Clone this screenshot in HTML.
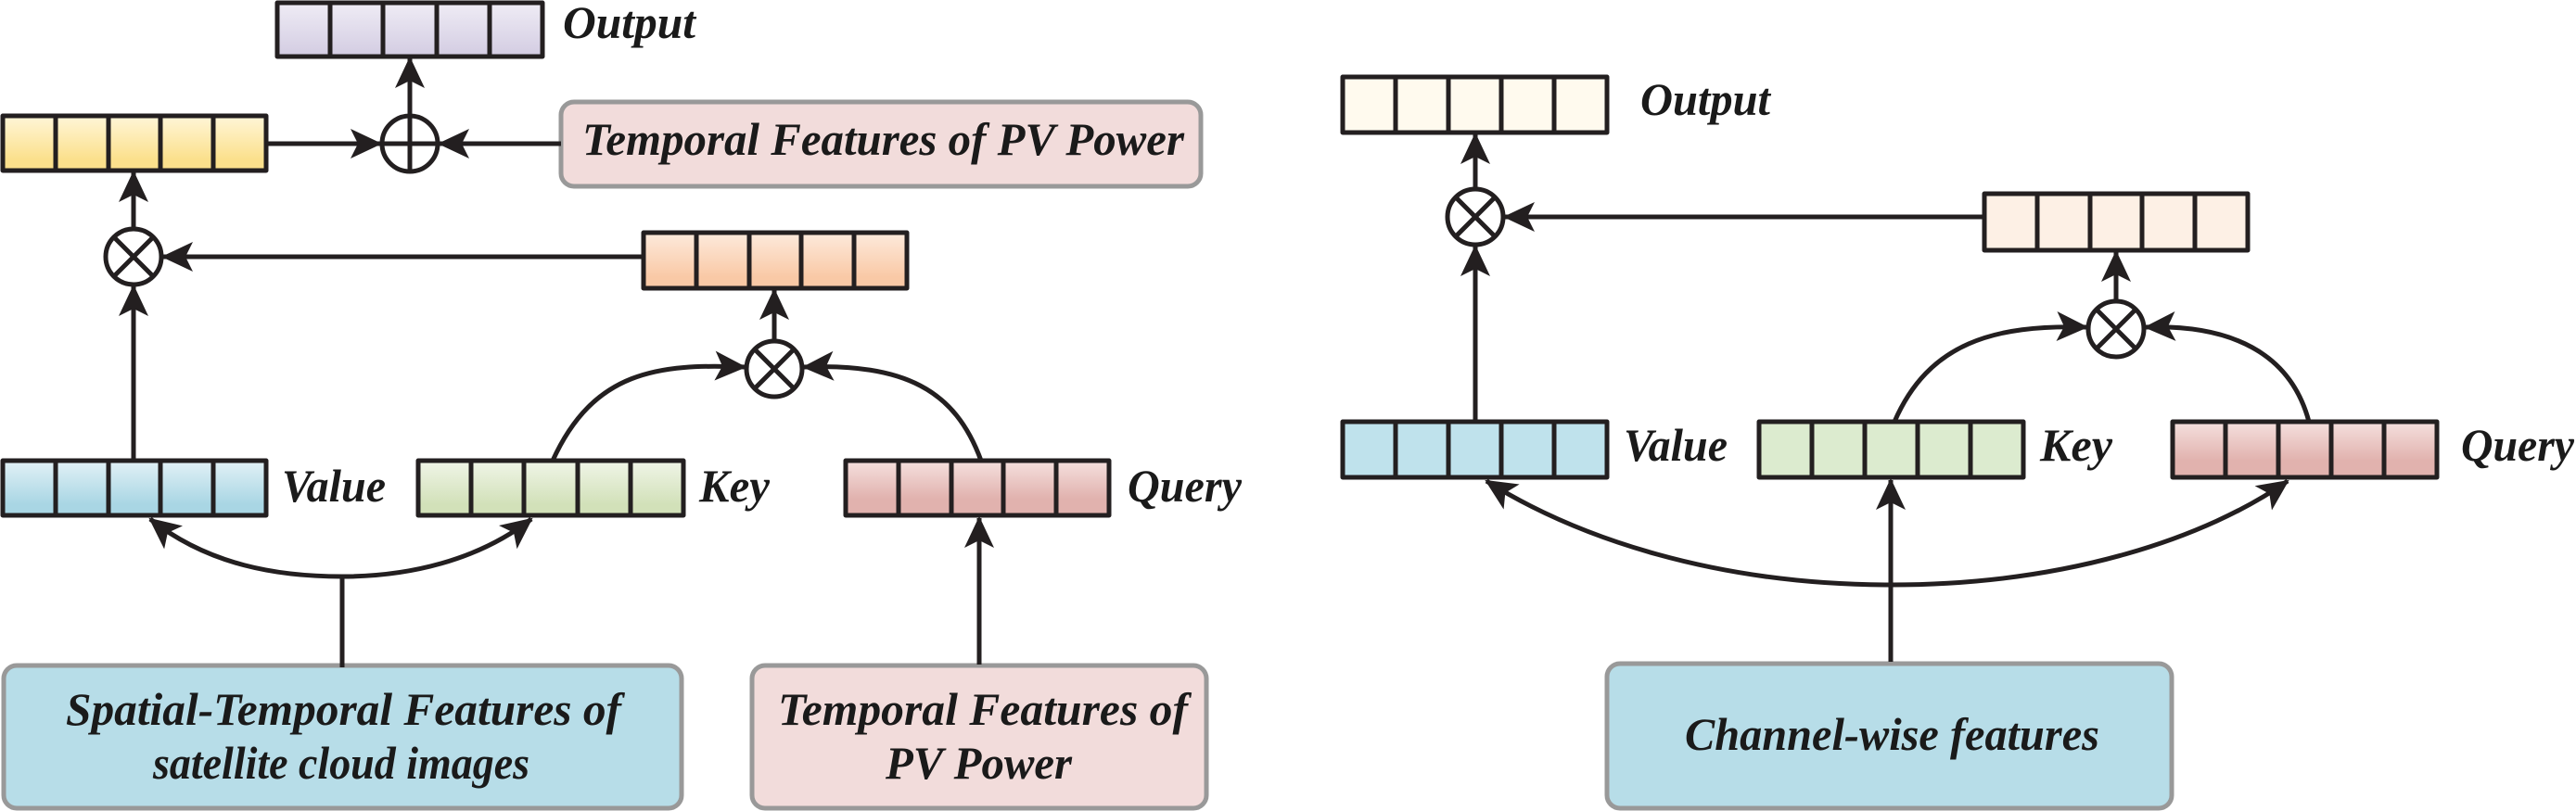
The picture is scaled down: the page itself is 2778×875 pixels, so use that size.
<!DOCTYPE html>
<html><head><meta charset="utf-8"><style>
html,body{margin:0;padding:0;background:#fff;}
svg{display:block;}
text{font-family:"Liberation Serif","DejaVu Serif",serif;font-weight:bold;font-style:italic;fill:#1a1a1a;}
</style></head><body>
<svg width="2778" height="875" viewBox="0 0 2778 875" xmlns="http://www.w3.org/2000/svg">
<defs>
<marker id="ah" markerUnits="userSpaceOnUse" markerWidth="36" markerHeight="34" refX="32" refY="16" orient="auto">
<path d="M0,0 L34,16 L0,32 L8,16 z" fill="#231f20"/>
</marker>
<linearGradient id="gPur" x1="0" y1="0" x2="0" y2="1"><stop offset="0" stop-color="#efecf5"/><stop offset="1" stop-color="#d3cce2"/></linearGradient>
<linearGradient id="gYel" x1="0" y1="0" x2="0" y2="1"><stop offset="0" stop-color="#fff6d8"/><stop offset="0.8" stop-color="#fbe08c"/></linearGradient>
<linearGradient id="gOra" x1="0" y1="0" x2="0" y2="1"><stop offset="0" stop-color="#fdeadc"/><stop offset="0.8" stop-color="#f9c9a6"/></linearGradient>
<linearGradient id="gBlu" x1="0" y1="0" x2="0" y2="1"><stop offset="0" stop-color="#e2f1f6"/><stop offset="0.8" stop-color="#a9d6e4"/></linearGradient>
<linearGradient id="gGrn" x1="0" y1="0" x2="0" y2="1"><stop offset="0" stop-color="#f0f5e8"/><stop offset="0.8" stop-color="#d2e1b9"/></linearGradient>
<linearGradient id="gRed" x1="0" y1="0" x2="0" y2="1"><stop offset="0" stop-color="#f5e0de"/><stop offset="0.7" stop-color="#e1b2ae"/></linearGradient>
</defs>
<g stroke="#231f20" stroke-width="5" fill="none" stroke-linejoin="round">
<rect x="299" y="3" width="286" height="58" fill="url(#gPur)"/>
<path d="M356,3V61M413,3V61M471,3V61M528,3V61"/>
<rect x="3" y="125" width="284" height="59" fill="url(#gYel)"/>
<path d="M60,125V184M117,125V184M173,125V184M230,125V184"/>
<rect x="694" y="251" width="284" height="60" fill="url(#gOra)"/>
<path d="M751,251V311M808,251V311M864,251V311M921,251V311"/>
<rect x="3" y="497" width="284" height="59" fill="url(#gBlu)"/>
<path d="M60,497V556M117,497V556M173,497V556M230,497V556"/>
<rect x="451" y="497" width="286" height="59" fill="url(#gGrn)"/>
<path d="M508,497V556M565,497V556M623,497V556M680,497V556"/>
<rect x="912" y="497" width="284" height="59" fill="url(#gRed)"/>
<path d="M969,497V556M1026,497V556M1082,497V556M1139,497V556"/>
<rect x="1448" y="83" width="285" height="60" fill="#fffaee"/>
<path d="M1505,83V143M1562,83V143M1619,83V143M1676,83V143"/>
<rect x="2140" y="209" width="284" height="61" fill="#fdf0e5"/>
<path d="M2197,209V270M2254,209V270M2310,209V270M2367,209V270"/>
<rect x="1448" y="455" width="285" height="60" fill="#bfe2ec"/>
<path d="M1505,455V515M1562,455V515M1619,455V515M1676,455V515"/>
<rect x="1897" y="455" width="285" height="60" fill="#dcebcf"/>
<path d="M1954,455V515M2011,455V515M2068,455V515M2125,455V515"/>
<rect x="2343" y="455" width="285" height="60" fill="url(#gRed)"/>
<path d="M2400,455V515M2457,455V515M2514,455V515M2571,455V515"/>
</g>
<g stroke="#999" stroke-width="5">
<rect x="605" y="110" width="690" height="91" rx="14" fill="#f2dcdb"/>
<rect x="4" y="718" width="731" height="154" rx="14" fill="#b7dde8"/>
<rect x="811" y="718" width="490" height="154" rx="14" fill="#f2dcdb"/>
<rect x="1733" y="716" width="609" height="156" rx="14" fill="#b7dde8"/>
</g>
<g stroke="#231f20" stroke-width="5" fill="#fff">
<circle cx="442" cy="155" r="30"/>
<path d="M412,155H472M442,125V185" fill="none"/>
<circle cx="144" cy="277" r="30"/>
<path d="M123,256L165,298M165,256L123,298" fill="none"/>
<circle cx="835" cy="398" r="30"/>
<path d="M814,377L856,419M856,377L814,419" fill="none"/>
<circle cx="1591" cy="234" r="30"/>
<path d="M1570,213L1612,255M1612,213L1570,255" fill="none"/>
<circle cx="2282" cy="355" r="30"/>
<path d="M2261,334L2303,376M2303,334L2261,376" fill="none"/>
</g>
<g stroke="#231f20" stroke-width="5" fill="none" marker-end="url(#ah)">
<path d="M287,155H410"/>
<path d="M605,155H474"/>
<path d="M442,125V63"/>
<path d="M144,247V186"/>
<path d="M694,277H176"/>
<path d="M144,497V309"/>
<path d="M835,368V313"/>
<path d="M596,497C640,400 710,392 803,396"/>
<path d="M1058,497C1030,420 975,392 867,396"/>
<path d="M369,622C300,622 225,610 162,560"/>
<path d="M369,622C440,622 515,605 573,560"/>
<path d="M1056,717V559"/>
<path d="M1591,204V145"/>
<path d="M1591,455V266"/>
<path d="M2140,234H1623"/>
<path d="M2282,325V272"/>
<path d="M2043,455C2080,370 2150,350 2250,353"/>
<path d="M2490,455C2470,380 2405,350 2314,353"/>
<path d="M2039,631C1850,631 1700,580 1603,519"/>
<path d="M2039,631C2230,631 2380,580 2467,519"/>
<path d="M2039,714V518"/>
</g>
<path d="M369,720V622" stroke="#231f20" stroke-width="5" fill="none"/>
<g font-size="50">
<text x="607" y="41" textLength="143" lengthAdjust="spacingAndGlyphs">Output</text>
<text x="304" y="541" textLength="112" lengthAdjust="spacingAndGlyphs">Value</text>
<text x="754" y="541" textLength="76" lengthAdjust="spacingAndGlyphs">Key</text>
<text x="1216" y="541" textLength="123" lengthAdjust="spacingAndGlyphs">Query</text>
<text x="1769" y="124" textLength="140" lengthAdjust="spacingAndGlyphs">Output</text>
<text x="1751" y="497" textLength="112" lengthAdjust="spacingAndGlyphs">Value</text>
<text x="2200" y="497" textLength="78" lengthAdjust="spacingAndGlyphs">Key</text>
<text x="2654" y="497" textLength="122" lengthAdjust="spacingAndGlyphs">Query</text>
<text x="628" y="167" textLength="649" lengthAdjust="spacingAndGlyphs">Temporal Features of PV Power</text>
<text x="71" y="782" textLength="599" lengthAdjust="spacingAndGlyphs">Spatial-Temporal Features of</text>
<text x="165" y="840" textLength="406" lengthAdjust="spacingAndGlyphs">satellite cloud images</text>
<text x="839" y="782" textLength="442" lengthAdjust="spacingAndGlyphs">Temporal Features of</text>
<text x="955" y="840" textLength="201" lengthAdjust="spacingAndGlyphs">PV Power</text>
<text x="1817" y="809" textLength="447" lengthAdjust="spacingAndGlyphs">Channel-wise features</text>
</g>
</svg>
</body></html>
